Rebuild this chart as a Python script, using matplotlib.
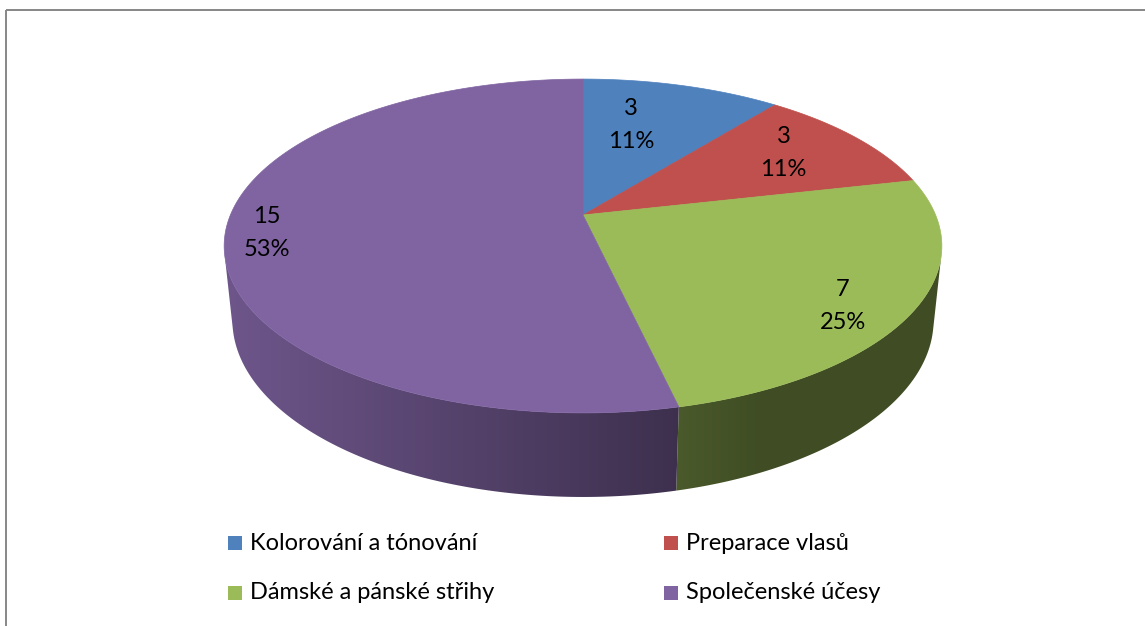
import numpy as np
import matplotlib
matplotlib.use("Agg")
import matplotlib.pyplot as plt
from matplotlib.patches import Polygon, Rectangle
from matplotlib.colors import to_rgb

# ---- data ----
categories = ["Kolorování a tónování", "Preparace vlasů",
              "Dámské a pánské střihy", "Společenské účesy"]
values = [3, 3, 7, 15]
percent_labels = ["11%", "11%", "25%", "53%"]
colors = ["#4F81BD", "#C0504D", "#9BBB59", "#8064A2"]

# ---- figure ----
W, H = 1145, 626
fig = plt.figure(figsize=(W / 100, H / 100), dpi=100)
ax = fig.add_axes([0, 0, 1, 1])
ax.axis("off")

FONT = ["Lato", "DejaVu Sans"]

# ---- simple perspective camera for a 3D pie ----
cx, cy = 583.0, 215.0
elev = np.deg2rad(27.2)
s_, c_ = np.sin(elev), np.cos(elev)
dist = 4.79
F = 1689.0
depth_h = 0.2387


def proj(X, Y, Z):
    dep = dist + Y * c_ - Z * s_
    u = cx + F * X / dep
    v = cy - F * (Y * s_ + Z * c_) / dep
    return u, v


def rim(theta_deg, Z=0.0, r=1.0):
    t = np.deg2rad(theta_deg)
    return proj(r * np.sin(t), r * np.cos(t), Z)


total = float(sum(values))
cum = np.concatenate([[0.0], np.cumsum(values)]) / total * 360.0

# visible (front-facing) range of the outer wall
lim = np.rad2deg(np.arccos(-1.0 / (dist * c_)))
vis0, vis1 = lim, 360.0 - lim

# horizontal light gradient for the walls (one column per pixel)
uu = np.arange(W) + 0.5
shade = np.clip(0.86 - (uu - 224.0) / 454.0 * 0.38, 0.41, 0.86)

for i, col in enumerate(colors):
    a0, a1 = max(cum[i], vis0), min(cum[i + 1], vis1)
    if a1 <= a0:
        continue
    th = np.linspace(a0, a1, max(int((a1 - a0) * 2), 4))
    top = [rim(t, 0.0) for t in th]
    bot = [rim(t, -depth_h) for t in th[::-1]]
    poly = Polygon(top + bot, closed=True, facecolor="none",
                   edgecolor="none", transform=ax.transData)
    ax.add_patch(poly)
    base = np.array(to_rgb(col))
    img = np.clip(base[None, None, :] * shade[None, :, None], 0, 1)
    img = np.repeat(img, 2, axis=0)
    im = ax.imshow(img, extent=(0, W, H, 0), aspect="auto",
                   interpolation="nearest", zorder=2)
    im.set_clip_path(poly)

# top faces
for i, col in enumerate(colors):
    a0, a1 = cum[i], cum[i + 1]
    th = np.linspace(a0, a1, max(int((a1 - a0) * 2), 4))
    pts = [proj(0, 0, 0)] + [rim(t, 0.0) for t in th]
    ax.add_patch(Polygon(pts, closed=True, facecolor=col, edgecolor=col,
                         linewidth=0.5, zorder=3))

# data labels
label_r = [0.66, 0.75, 0.835, 0.885]
label_dtheta = [-6.0, -2.9, 4.7, 0.0]
for i in range(len(values)):
    mid = 0.5 * (cum[i] + cum[i + 1]) + label_dtheta[i]
    u, v = rim(mid, 0.0, label_r[i])
    ax.text(u, v - 8, str(values[i]), ha="center", va="baseline",
            fontsize=17, family=FONT, color="black", zorder=5)
    ax.text(u, v + 25, percent_labels[i], ha="center", va="baseline",
            fontsize=17, family=FONT, color="black", zorder=5)

# legend (row-major, 2 columns)
leg_x = [228, 664]
leg_top = [536, 586]
leg_base = [550, 599]
for i, name in enumerate(categories):
    r, c = divmod(i, 2)
    ax.add_patch(Rectangle((leg_x[c], leg_top[r]), 14, 14,
                           facecolor=colors[i], edgecolor="none", zorder=5))
    ax.text(leg_x[c] + 22, leg_base[r], name, ha="left", va="baseline",
            fontsize=17, family=FONT, color="black", zorder=5)

# chart frame (top and left visible)
ax.plot([5.5, 5.5], [H + 5, 9.5], color="#878787", lw=1.4, zorder=6,
        solid_capstyle="butt")
ax.plot([5.5, W + 5], [9.5, 9.5], color="#878787", lw=1.4, zorder=6,
        solid_capstyle="butt")

ax.set_xlim(0, W)
ax.set_ylim(H, 0)
fig.savefig("out.png", dpi=100)
